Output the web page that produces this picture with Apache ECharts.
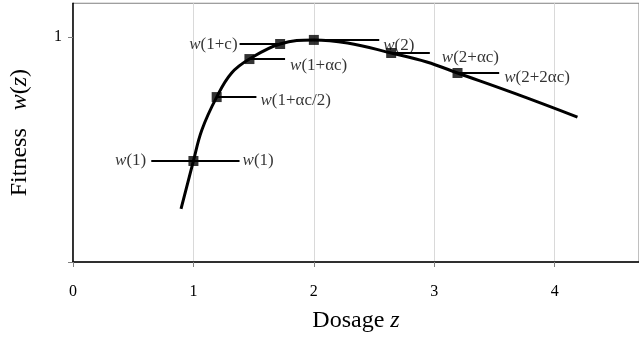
<!DOCTYPE html>
<html>
<head>
<meta charset="utf-8">
<script src="https://cdn.jsdelivr.net/npm/echarts@6/dist/echarts.min.js"></script>
<style>
  html, body { margin: 0; padding: 0; background: #fff; }
  #chart { width: 639px; height: 349px; }
</style>
</head>
<body>
<div id="chart"></div>
<script>
// fitness curve w(z)
const curveX = [0.897, 1.0, 1.07, 1.193, 1.317, 1.465, 1.72, 2.0, 2.28, 2.642, 2.938, 3.193, 3.679, 4.189];
const curveY = [0.236, 0.449, 0.587, 0.733, 0.84, 0.902, 0.969, 0.987, 0.973, 0.929, 0.889, 0.84, 0.747, 0.644];

// marked points on the curve
const markX = [1.0, 1.193, 1.465, 1.72, 2.0, 2.642, 3.193];
const markY = [0.449, 0.733, 0.902, 0.969, 0.987, 0.929, 0.84];

// horizontal leader lines
const segY = [0.449, 0.733, 0.902, 0.969, 0.987, 0.929, 0.84];
const segX1 = [0.65, 1.193, 1.465, 1.383, 2.0, 2.642, 3.193];
const segX2 = [1.383, 1.523, 1.761, 1.72, 2.543, 2.963, 3.539];

// annotations: which leader line, which end
const labelText = ['w(1)', 'w(1)', 'w(1+αc/2)', 'w(1+αc)', 'w(1+c)', 'w(2)', 'w(2+αc)', 'w(2+2αc)'];
const labelSeg = [0, 0, 1, 2, 3, 4, 5, 6];
const labelSide = ['left', 'right', 'right', 'right', 'left', 'right', 'right', 'right'];

const xTicks = [0, 1, 2, 3, 4];

const serif = '"Liberation Serif", "Times New Roman", serif';
const gap = [5, 3, 4, 5, 2, 4, 12, 5];
const drop = [0, 0, 3, 6, 1, 6, 5, 5];

const segData = [];
segY.forEach((y, i) => {
  segData.push([segX1[i], y], [segX2[i], y], '-');
});

const labelData = labelText.map((t, i) => {
  const s = labelSeg[i];
  const left = labelSide[i] === 'left';
  return {
    value: [left ? segX1[s] : segX2[s], segY[s]],
    label: {
      position: left ? 'left' : 'right',
      distance: gap[i],
      offset: [0, drop[i]],
      formatter: '{i|w}{n|' + t.slice(1) + '}',
    },
  };
});

const titleRich = {
  n: { fontFamily: serif, fontSize: 24, color: '#000' },
  i: { fontFamily: serif, fontSize: 24, fontStyle: 'italic', color: '#000' },
};

const chart = echarts.init(document.getElementById('chart'));
chart.setOption({
  animation: false,
  grid: {
    left: 73, right: -6, top: 3.25, bottom: 87,
    show: true, borderColor: '#808080', borderWidth: 1,
  },
  xAxis: {
    type: 'value',
    min: 0, max: 4.7, interval: 1,
    name: '{n|Dosage }{i|z}',
    nameLocation: 'middle',
    nameGap: 47,
    nameTextStyle: { rich: titleRich },
    axisLine: { lineStyle: { color: '#000', width: 1.5 } },
    axisTick: { show: true, length: 5, lineStyle: { color: '#808080' }, customValues: xTicks },
    axisLabel: { customValues: xTicks, fontFamily: serif, fontSize: 16, color: '#000', margin: 22 },
    splitLine: { show: true, lineStyle: { color: '#d9d9d9' } },
  },
  yAxis: {
    type: 'value',
    min: 0, max: 1.15, interval: 1,
    name: '{n|Fitness   }{i|w}{n|(}{i|z}{n|)}',
    nameLocation: 'middle',
    nameGap: 41,
    nameTextStyle: { rich: titleRich },
    axisLine: { show: true, lineStyle: { color: '#000', width: 1.5 } },
    axisTick: { show: true, length: 5, lineStyle: { color: '#808080' }, customValues: [0, 1] },
    axisLabel: { customValues: [1], fontFamily: serif, fontSize: 16, color: '#000', margin: 11 },
    splitLine: { show: false },
  },
  series: [
    {
      type: 'line',
      data: curveX.map((x, i) => [x, curveY[i]]),
      smooth: 0.4,
      showSymbol: false,
      lineStyle: { color: '#000', width: 3 },
      z: 3,
    },
    {
      type: 'line',
      data: segData,
      showSymbol: false,
      connectNulls: false,
      lineStyle: { color: '#000', width: 2 },
      z: 2,
    },
    {
      type: 'scatter',
      data: markX.map((x, i) => [x, markY[i]]),
      symbol: 'rect',
      symbolSize: 10,
      itemStyle: { color: '#000' },
      z: 4,
    },
    {
      type: 'scatter',
      data: labelData,
      symbolSize: 0,
      label: {
        show: true,
        color: '#000',
        rich: {
          n: { fontFamily: serif, fontSize: 17, color: '#000' },
          i: { fontFamily: serif, fontSize: 17, fontStyle: 'italic', color: '#000' },
        },
      },
      z: 5,
    },
  ],
});
</script>
</body>
</html>
